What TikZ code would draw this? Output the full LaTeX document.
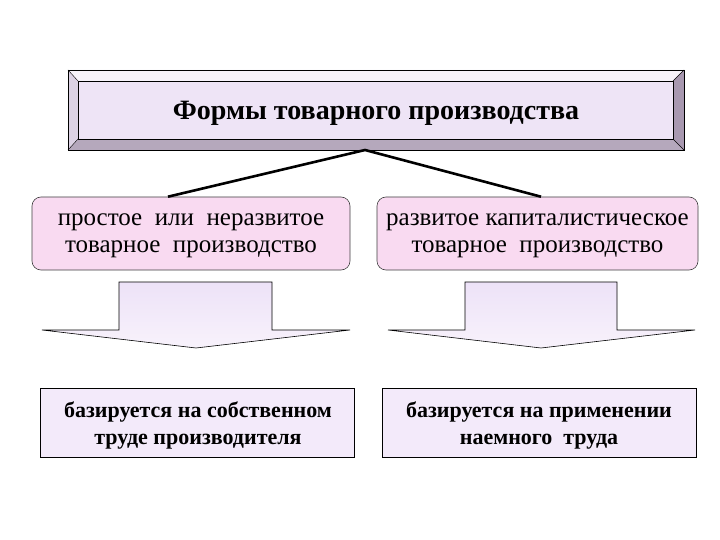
\documentclass[tikz,border=0pt]{standalone}
\usepackage{fontspec}
\setmainfont{Liberation Serif}
\usetikzlibrary{calc}
\definecolor{face}{HTML}{EEE4F6}
\definecolor{bevlight}{HTML}{F7F3FA}
\definecolor{bevmid}{HTML}{DCD2E4}
\definecolor{bevdark}{HTML}{A898B0}
\definecolor{pinkbox}{HTML}{F9DAF1}
\definecolor{lavbox}{HTML}{F3EAFA}
\definecolor{arrtop}{HTML}{EDE2F8}
\definecolor{arrbot}{HTML}{F8F2FB}
\begin{document}
\begin{tikzpicture}[x=1pt,y=-1pt,
  titletext/.style={font=\fontsize{28}{30}\selectfont\bfseries, align=center},
  midbox/.style={draw=black!75, fill=pinkbox, rounded corners=9pt, line width=0.6pt,
    minimum width=318pt, minimum height=73pt, inner sep=0pt},
  midtext/.style={font=\fontsize{25}{27}\selectfont, align=center},
  lowbox/.style={draw=black, fill=lavbox, line width=0.6pt,
    minimum width=314pt, minimum height=69pt, inner sep=0pt},
  lowtext/.style={font=\fontsize{22}{27}\selectfont\bfseries, align=center},
  conn/.style={line width=2.6pt, black},
  blockarrow/.style={draw=black, line width=0.6pt, top color=arrtop, bottom color=arrbot}
]
\useasboundingbox (0,0) rectangle (720,540);
\fill[white] (0,0) rectangle (720,540);
% bevelled title box
\fill[bevlight] (68,70) -- (684,70) -- (673,81) -- (78,81) -- cycle;
\fill[bevmid] (68,70) -- (78,81) -- (78,139) -- (68,150) -- cycle;
\fill[bevdark] (684,70) -- (684,150) -- (673,139) -- (673,81) -- cycle;
\fill[bevdark!85] (68,150) -- (684,150) -- (673,139) -- (78,139) -- cycle;
\fill[face] (78,81) rectangle (673,139);
\draw[line width=0.6pt] (68,70) rectangle (684,150);
\draw[line width=0.6pt] (78,81) rectangle (673,139);
\draw[line width=0.4pt] (68,70) -- (78,81) (684,70) -- (673,81) (68,150) -- (78,139) (684,150) -- (673,139);
\node[titletext] (title) at (376,113) {Формы товарного производства};
\coordinate (apex) at (365,150);
% middle boxes
\node[midbox] (lb) at (191,233.5) {};
\node[midtext] (lbt) at (191,236) {простое\ \ или\ \ неразвитое\\товарное\ \ производство};
\node[midbox, minimum width=321pt] (rb) at (537.5,233.5) {};
\node[midtext] (rbt) at (537.5,236) {развитое капиталистическое\\товарное\ \ производство};
\draw[conn] ($(lb.north)+(-23,0)$) -- (apex) -- ($(rb.north)+(3.5,0)$);
% block arrows
\coordinate (la) at (196,348);
\coordinate (ra) at (541,348);
\draw[blockarrow] (119,282) -- (272,282) -- (272,330) -- (350,330) -- (la) -- (42,330) -- (119,330) -- cycle;
\draw[blockarrow] (465,282) -- (617,282) -- (617,330) -- (695,330) -- (ra) -- (388,330) -- (465,330) -- cycle;
% bottom boxes
\node[lowbox] (lbb) at (197,422.5) {};
\node[lowtext] (lbbt) at (198,425.5) {базируется на собственном\\труде производителя};
\node[lowbox] (rbb) at (539,422.5) {};
\node[lowtext] (rbbt) at (539,425.5) {базируется на применении\\наемного\ \ труда};
\end{tikzpicture}
\end{document}
